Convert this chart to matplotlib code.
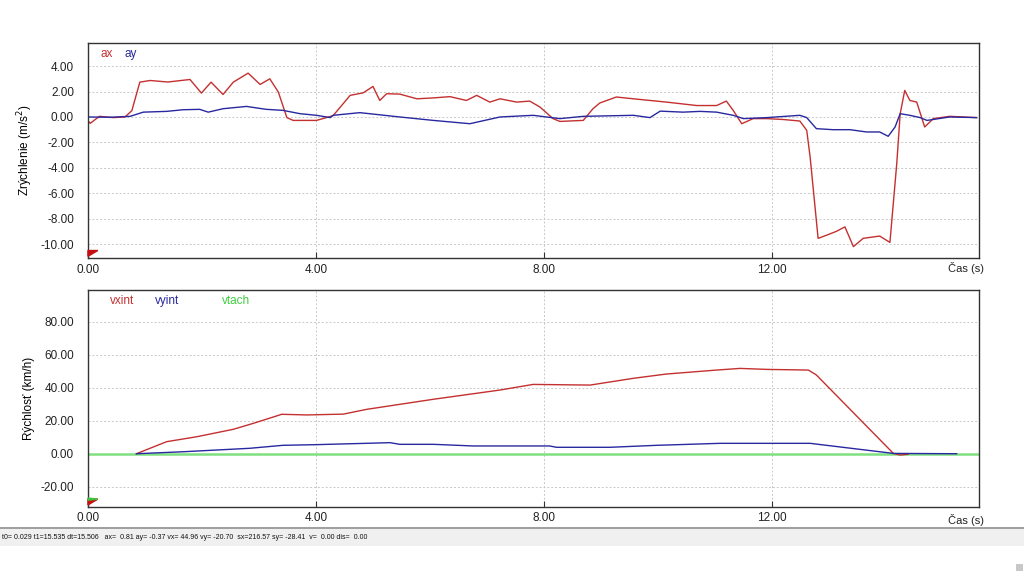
import matplotlib
matplotlib.use('Agg')
import matplotlib.pyplot as plt
from matplotlib.patches import Rectangle

# acceleration (m/s^2)
t_ax = [0, 0.04, 0.2, 0.45, 0.65, 0.77, 0.91, 1.09, 1.4, 1.79, 1.99, 2.16, 2.37,
        2.55, 2.81, 3.02, 3.19, 3.34, 3.49, 3.6, 3.72, 4.01, 4.3, 4.6, 4.83, 5.0,
        5.12, 5.24, 5.47, 5.77, 6.06, 6.35, 6.64, 6.82, 7.05, 7.23, 7.52, 7.75,
        7.93, 8.16, 8.28, 8.69, 8.86, 8.98, 9.27, 9.57, 9.86, 10.15, 10.68, 11.03,
        11.2, 11.32, 11.47, 11.67, 11.91, 12.2, 12.49, 12.61, 12.67, 12.81, 12.96,
        13.13, 13.28, 13.43, 13.6, 13.89, 14.07, 14.19, 14.25, 14.33, 14.42, 14.54,
        14.68, 14.83, 15.12, 15.59]
ax_vals = [-0.3, -0.5, 0.05, -0.05, 0.0, 0.5, 2.74, 2.87, 2.75, 2.95, 1.88, 2.74,
           1.77, 2.74, 3.45, 2.56, 3.0, 1.96, -0.05, -0.27, -0.27, -0.27, 0.1, 1.7,
           1.9, 2.4, 1.3, 1.83, 1.8, 1.43, 1.5, 1.6, 1.3, 1.7, 1.17, 1.43, 1.17,
           1.25, 0.78, -0.13, -0.35, -0.27, 0.65, 1.1, 1.57, 1.43, 1.3, 1.17, 0.9,
           0.9, 1.25, 0.52, -0.53, -0.13, -0.13, -0.2, -0.32, -1.05, -3.15, -9.55,
           -9.3, -9.0, -8.65, -10.2, -9.55, -9.37, -9.87, -3.66, 0.26, 2.09, 1.3,
           1.17, -0.79, -0.13, 0.05, -0.05]

t_ay = [0, 0.4, 0.74, 0.97, 1.38, 1.67, 1.96, 2.11, 2.37, 2.78, 3.13, 3.42, 3.72,
        4.01, 4.25, 4.3, 4.77, 5.47, 6.06, 6.7, 7.23, 7.81, 8.28, 8.69, 9.57, 9.86,
        10.04, 10.44, 10.74, 11.03, 11.32, 11.5, 11.91, 12.49, 12.61, 12.78, 13.07,
        13.37, 13.66, 13.89, 14.04, 14.16, 14.25, 14.42, 14.6, 14.72, 15.12, 15.59]
ay_vals = [0, -0.02, 0.05, 0.38, 0.44, 0.57, 0.6, 0.38, 0.65, 0.83, 0.6, 0.52, 0.26,
           0.13, -0.05, 0.13, 0.34, 0.0, -0.27, -0.53, 0.0, 0.13, -0.13, 0.05, 0.13,
           -0.05, 0.46, 0.38, 0.44, 0.38, 0.13, -0.13, -0.05, 0.13, -0.05, -0.92,
           -1.0, -1.0, -1.18, -1.18, -1.52, -0.79, 0.26, 0.13, -0.05, -0.27, 0.0,
           -0.05]

# velocity (km/h)
t_vx = [0.85, 1.38, 1.91, 2.55, 2.9, 3.4, 3.84, 4.48, 4.89, 6.06, 7.23, 7.81, 8.81,
        9.57, 10.15, 11.03, 11.44, 11.91, 12.64, 12.78, 14.13, 14.25, 14.39]
vx_vals = [0, 7.3, 10.3, 14.8, 18.4, 23.9, 23.5, 24.0, 26.9, 33.0, 38.6, 42.0, 41.6,
           45.7, 48.3, 50.7, 51.7, 51.1, 50.7, 47.7, 0.2, -0.8, -0.3]

t_vy = [0.85, 1.67, 2.84, 3.42, 4.01, 5.3, 5.47, 6.06, 6.76, 8.1, 8.22, 9.16, 9.98,
        11.09, 12.67, 14.13, 15.24]
vy_vals = [0, 1.2, 3.3, 5.1, 5.5, 6.7, 5.7, 5.7, 4.7, 4.7, 3.9, 3.9, 5.1, 6.3, 6.3,
           0.2, 0.0]

t_vt = [0, 15.63]
vt_vals = [0, 0]

x_ticks = [0, 4, 8, 12]
status = ('t0= 0.029 t1=15.535 dt=15.506   ax=  0.81 ay= -0.37 vx= 44.96 vy= -20.70'
          '  sx=216.57 sy= -28.41  v=  0.00 dis=  0.00')

RED = '#c43030'
BLUE = '#2828a0'
GREEN = '#7ee07e'
GRID = '#c8c8c8'

plt.rcParams['font.family'] = ['Liberation Sans', 'DejaVu Sans']

fig = plt.figure(figsize=(10.24, 5.76), dpi=100)
ax1 = fig.add_axes([0.0859, 0.552, 0.870, 0.374])
ax2 = fig.add_axes([0.0859, 0.1203, 0.870, 0.3762])


def style(ax, ylim, yticks):
    ax.set_xlim(0, 15.63)
    ax.set_ylim(*ylim)
    ax.set_xticks(x_ticks)
    ax.set_xticklabels([f'{v:.2f}' for v in x_ticks])
    ax.set_yticks(yticks)
    ax.set_yticklabels([f'{v:.2f}' for v in yticks])
    ax.tick_params(axis='x', direction='in', length=4, labelsize=8.5, pad=4,
                   color='#333333', labelcolor='#222222')
    ax.tick_params(axis='y', length=0, labelsize=8.5, pad=10, labelcolor='#222222')
    ax.grid(True, linestyle=(0, (2, 2)), color=GRID, linewidth=0.7)
    for s in ax.spines.values():
        s.set_color('#333333')
        s.set_linewidth(1.0)
    ax.set_axisbelow(True)
    # small corner marker
    ax.fill([0, 0.011, 0], [0.008, 0.035, 0.035], color='#c41010',
            transform=ax.transAxes, clip_on=False, zorder=5)


style(ax1, (-11.1, 5.85), [-10, -8, -6, -4, -2, 0, 2, 4])
ax1.plot(t_ax, ax_vals, color=RED, lw=1.0)
ax1.plot(t_ay, ay_vals, color=BLUE, lw=1.0)
ax1.set_ylabel('Zrýchlenie (m/s$^2$)', fontsize=8.5)
ax1.yaxis.set_label_coords(-0.06, 0.5)
ax1.text(0.014, 0.975, 'ax', color=RED, fontsize=8.5, transform=ax1.transAxes, va='top')
ax1.text(0.041, 0.975, 'ay', color=BLUE, fontsize=8.5, transform=ax1.transAxes, va='top')

style(ax2, (-32.1, 99.2), [-20, 0, 20, 40, 60, 80])
ax2.fill([0, 0.011, 0], [0.03, 0.035, 0.04], color='#40c040',
         transform=ax2.transAxes, clip_on=False, zorder=6)
ax2.plot(t_vt, vt_vals, color=GREEN, lw=1.8)
ax2.plot(t_vx, vx_vals, color=RED, lw=1.0)
ax2.plot(t_vy, vy_vals, color=BLUE, lw=1.0)
ax2.set_ylabel('Rýchlosť (km/h)', fontsize=8.5)
ax2.yaxis.set_label_coords(-0.06, 0.5)
ax2.text(0.025, 0.975, 'vxint', color=RED, fontsize=8.5, transform=ax2.transAxes, va='top')
ax2.text(0.075, 0.975, 'vyint', color=BLUE, fontsize=8.5, transform=ax2.transAxes, va='top')
ax2.text(0.150, 0.975, 'vtach', color='#40d040', fontsize=8.5, transform=ax2.transAxes, va='top')

fig.text(0.926, 0.534, 'Čas (s)', fontsize=8, color='#222222', va='center')
fig.text(0.926, 0.097, 'Čas (s)', fontsize=8, color='#222222', va='center')

# status bar
fig.patches.append(Rectangle((0, 0.052), 1, 0.032, transform=fig.transFigure,
                             facecolor='#f0f0f0', edgecolor='none'))
fig.patches.append(Rectangle((0, 0.082), 1, 0.003, transform=fig.transFigure,
                             facecolor='#a0a0a0', edgecolor='none'))
fig.text(0.002, 0.067, status, fontsize=5.0, va='center', color='#111111')
fig.patches.append(Rectangle((0.9925, 0.008), 0.0065, 0.013, transform=fig.transFigure,
                             facecolor='#c8c8c8', edgecolor='none'))

fig.savefig('out.png', dpi=100)
